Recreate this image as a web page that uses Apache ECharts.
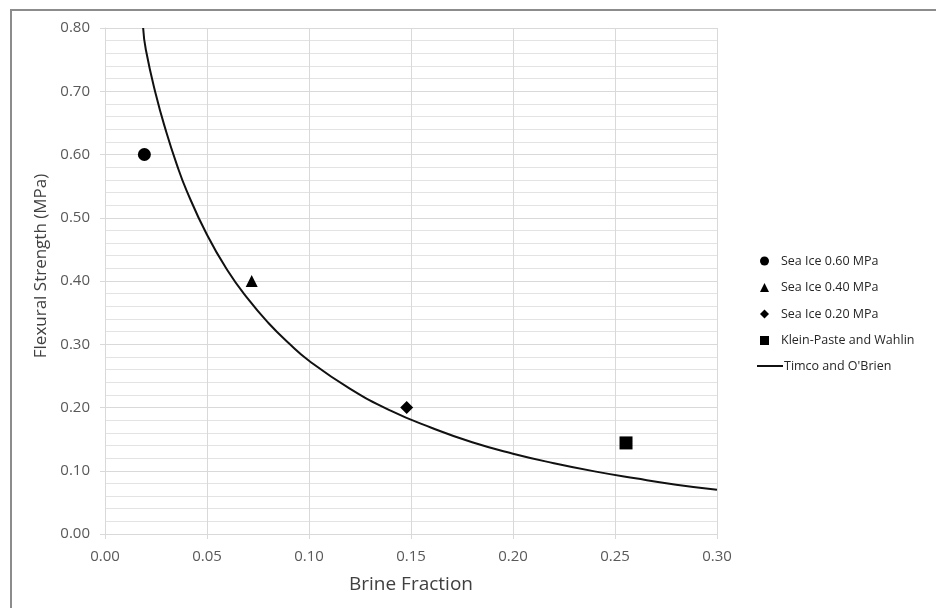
<!DOCTYPE html>
<html>
<head>
<meta charset="utf-8">
<script src="https://cdn.jsdelivr.net/npm/echarts@6/dist/echarts.min.js"></script>
<style>
  html, body { margin: 0; padding: 0; background: #fff; }
  #chart { width: 943px; height: 608px; }
</style>
</head>
<body>
<div id="chart"></div>
<script>
// values
const curveX = [0.0187, 0.02, 0.025, 0.03, 0.035, 0.04, 0.05, 0.06, 0.07, 0.08, 0.09, 0.10,
  0.12, 0.14, 0.16, 0.18, 0.20, 0.22, 0.24, 0.26, 0.28, 0.30]
const curveY = [0.800, 0.766, 0.694, 0.636, 0.586, 0.543, 0.473, 0.417, 0.372, 0.334, 0.302, 0.274,
  0.230, 0.195, 0.168, 0.145, 0.127, 0.112, 0.099, 0.088, 0.078, 0.070]

const seaIce060 = [[0.0193, 0.60]]
const seaIce040 = [[0.0719, 0.40]]
const seaIce020 = [[0.1479, 0.20]]
const kleinPaste = [[0.2554, 0.144]]

const seriesNames = ["Sea Ice 0.60 MPa", "Sea Ice 0.40 MPa", "Sea Ice 0.20 MPa", "Klein-Paste and Wahlin", "Timco and O'Brien"]

const font = "'Open Sans', 'Liberation Sans', sans-serif"
const chart = echarts.init(document.getElementById("chart"), null, { renderer: "canvas" })

function pointSeries(name, data, symbol, size) {
  return {
    name, type: "scatter", data, symbol, symbolSize: size,
    itemStyle: { color: "#000", opacity: 1 }, z: 5
  }
}

const legendText = { fontFamily: font, fontSize: 12.5, color: "#262626", lineHeight: 14 }

chart.setOption({
  animation: false,
  backgroundColor: "#fff",
  textStyle: { fontFamily: font },
  grid: { left: 105, right: 226, top: 28, bottom: 74 },
  graphic: [
    { type: "line", shape: { x1: 10, y1: 10, x2: 936, y2: 10 }, style: { stroke: "#8c8c8c", lineWidth: 2 } },
    { type: "line", shape: { x1: 11, y1: 10, x2: 11, y2: 608 }, style: { stroke: "#8c8c8c", lineWidth: 2 } }
  ],
  legend: [
    {
      data: seriesNames.slice(0, 4),
      orient: "vertical",
      left: 755, top: 249,
      itemWidth: 9, itemHeight: 9, itemGap: 12.5,
      textStyle: { ...legendText, padding: [0, 0, 0, 7] }
    },
    {
      data: [{ name: seriesNames[4], icon: "rect" }],
      orient: "vertical",
      left: 752, top: 354,
      itemWidth: 26, itemHeight: 2,
      textStyle: { ...legendText, padding: [0, 0, 0, -4] }
    }
  ],
  xAxis: {
    type: "value", min: 0, max: 0.30, interval: 0.05,
    name: "Brine Fraction", nameLocation: "middle", nameGap: 41,
    nameTextStyle: { fontSize: 19, color: "#404040", fontFamily: font },
    axisLine: { show: true, onZero: false, lineStyle: { color: "#d9d9d9" } },
    axisTick: { show: true, length: 5, lineStyle: { color: "#d9d9d9" } },
    axisLabel: { margin: 15, fontSize: 15, color: "#595959", formatter: (v) => v.toFixed(2) },
    splitLine: { show: true, lineStyle: { color: "#d9d9d9" } }
  },
  yAxis: {
    type: "value", min: 0, max: 0.80, interval: 0.10,
    name: "Flexural Strength (MPa)", nameLocation: "middle", nameGap: 52,
    nameTextStyle: { fontSize: 17, color: "#404040", fontFamily: font, padding: [0, 0, 0, 30] },
    axisLine: { show: true, lineStyle: { color: "#d9d9d9" } },
    axisTick: { show: true, length: 5, lineStyle: { color: "#d9d9d9" } },
    axisLabel: { margin: 15, fontSize: 15, color: "#595959", formatter: (v) => v.toFixed(2) },
    splitLine: { show: true, lineStyle: { color: "#d9d9d9" } },
    minorTick: { show: false, splitNumber: 5 },
    minorSplitLine: { show: true, lineStyle: { color: "#e3e3e3" } }
  },
  series: [
    pointSeries(seriesNames[0], seaIce060, "circle", 13),
    pointSeries(seriesNames[1], seaIce040, "triangle", 12),
    pointSeries(seriesNames[2], seaIce020, "diamond", 13),
    pointSeries(seriesNames[3], kleinPaste, "rect", 13),
    {
      name: seriesNames[4], type: "line", smooth: true, showSymbol: false, symbol: "none",
      data: curveX.map((x, i) => [x, curveY[i]]),
      lineStyle: { color: "#111", width: 2 },
      itemStyle: { color: "#111" },
      z: 4
    }
  ]
})
</script>
</body>
</html>
